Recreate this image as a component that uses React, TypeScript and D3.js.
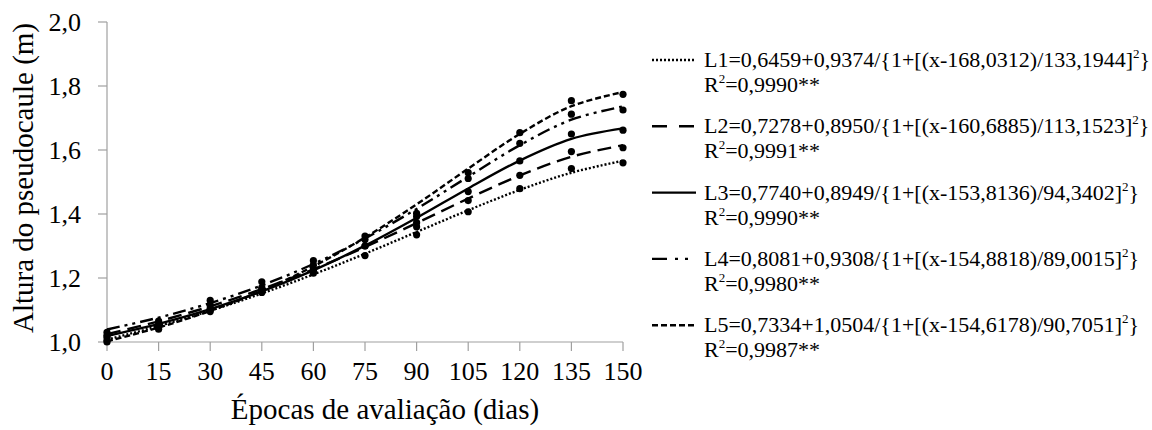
import * as d3 from "d3";

// days after planting
const epochs = [0, 15, 30, 45, 60, 75, 90, 105, 120, 135, 150];
const xTicks = epochs;
const yTicks = [1.0, 1.2, 1.4, 1.6, 1.8, 2.0];

const obsL1 = [1.005, 1.045, 1.095, 1.155, 1.215, 1.27, 1.335, 1.407, 1.479, 1.542, 1.56];
const obsL2 = [1.02, 1.06, 1.105, 1.165, 1.225, 1.3, 1.36, 1.442, 1.521, 1.595, 1.607];
const obsL3 = [1.015, 1.05, 1.1, 1.16, 1.225, 1.3, 1.373, 1.47, 1.566, 1.65, 1.662];
const obsL4 = [1.03, 1.065, 1.115, 1.17, 1.24, 1.32, 1.392, 1.511, 1.621, 1.712, 1.725];
const obsL5 = [1.0, 1.04, 1.13, 1.188, 1.254, 1.331, 1.402, 1.529, 1.654, 1.754, 1.774];

// fitted curve heights at each epoch
const fitL1 = [1.0076, 1.0499, 1.0979, 1.1517, 1.2113, 1.2759, 1.3438, 1.4118, 1.4754, 1.529, 1.5664];
const fitL2 = [1.0245, 1.0646, 1.1113, 1.1654, 1.2273, 1.2966, 1.3716, 1.4483, 1.5203, 1.5789, 1.6149];
const fitL3 = [1.0186, 1.0567, 1.1027, 1.158, 1.224, 1.3011, 1.388, 1.4799, 1.567, 1.6347, 1.6674];
const fitL4 = [1.0392, 1.0763, 1.1216, 1.1768, 1.2438, 1.3236, 1.4159, 1.5164, 1.615, 1.6947, 1.7361];
const fitL5 = [1.0023, 1.0452, 1.0972, 1.1603, 1.2364, 1.3267, 1.4302, 1.5419, 1.6503, 1.7369, 1.7811];

const equations = [
  "L1=0,6459+0,9374/{1+[(x-168,0312)/133,1944]",
  "L2=0,7278+0,8950/{1+[(x-160,6885)/113,1523]",
  "L3=0,7740+0,8949/{1+[(x-153,8136)/94,3402]",
  "L4=0,8081+0,9308/{1+[(x-154,8818)/89,0015]",
  "L5=0,7334+1,0504/{1+[(x-154,6178)/90,7051]",
];
const r2 = ["0,9990", "0,9991", "0,9990", "0,9980", "0,9987"];

const series = [
  { obs: obsL1, fit: fitL1, dash: "2,2", legendDash: "2,2" },
  { obs: obsL2, fit: fitL2, dash: "14,7", legendDash: "15,12" },
  { obs: obsL3, fit: fitL3, dash: null, legendDash: null },
  { obs: obsL4, fit: fitL4, dash: "13,5,3,5,3,5", legendDash: "15,8,3,7,3,20" },
  { obs: obsL5, fit: fitL5, dash: "6,3", legendDash: "6,3" },
];

const W = 1152;
const H = 430;
const font = '"Liberation Serif", "DejaVu Serif", serif';
const axisGrey = "#a0a0a0";

export default function App() {
  const x = d3.scaleLinear().domain([0, 150]).range([107, 623]);
  const y = d3.scaleLinear().domain([1, 2]).range([342, 22]);

  const line = d3
    .line<number>()
    .x((_, i) => x(epochs[i]))
    .y((d) => y(d))
    .curve(d3.curveCatmullRom.alpha(0.5));

  return (
    <svg
      width={W}
      height={H}
      style={{ position: "absolute", left: 0, top: 0, background: "#fff", fontFamily: font }}
    >
      {/* axes */}
      <line x1={x(0)} x2={x(0)} y1={y(2)} y2={y(1)} stroke={axisGrey} strokeWidth={1.2} />
      <line x1={x(0)} x2={x(150)} y1={y(1)} y2={y(1)} stroke={axisGrey} strokeWidth={1.2} />
      {yTicks.map((t) => (
        <g key={"y" + t}>
          <line x1={x(0) - 9} x2={x(0)} y1={y(t)} y2={y(t)} stroke={axisGrey} strokeWidth={1.2} />
          <text x={81} y={y(t) + 9} fontSize={26} textAnchor="end">
            {t.toFixed(1).replace(".", ",")}
          </text>
        </g>
      ))}
      {xTicks.map((t) => (
        <g key={"x" + t}>
          <line x1={x(t)} x2={x(t)} y1={y(1)} y2={y(1) + 9} stroke={axisGrey} strokeWidth={1.2} />
          <text x={x(t)} y={380} fontSize={26} textAnchor="middle">
            {t}
          </text>
        </g>
      ))}
      <text
        transform={`translate(33,178) rotate(-90)`}
        fontSize={29}
        textAnchor="middle"
      >
        Altura do pseudocaule (m)
      </text>
      <text x={385} y={419} fontSize={29} textAnchor="middle">
        Épocas de avaliação (dias)
      </text>

      {/* fitted curves */}
      {series.map((s, i) => (
        <path
          key={"c" + i}
          d={line(s.fit) || ""}
          fill="none"
          stroke="#000"
          strokeWidth={2.4}
          strokeDasharray={s.dash || undefined}
        />
      ))}
      {/* observed dots */}
      {series.map((s, i) =>
        s.obs.map((v, j) => (
          <circle key={`p${i}-${j}`} cx={x(epochs[j])} cy={y(v)} r={3.6} fill="#000" />
        ))
      )}

      {/* legend */}
      {series.map((s, i) => {
        const base = 67 + i * 66.3;
        return (
          <g key={"l" + i}>
            <line
              x1={652}
              x2={696}
              y1={base - 7}
              y2={base - 7}
              stroke="#000"
              strokeWidth={2.4}
              strokeDasharray={s.legendDash || undefined}
            />
            <text x={704} y={base} fontSize={22}>
              {equations[i]}
              <tspan fontSize={13} dy={-9}>2</tspan>
              <tspan dy={9}>{"}"}</tspan>
            </text>
            <text x={704} y={base + 25} fontSize={22}>
              R<tspan fontSize={13} dy={-9}>2</tspan>
              <tspan dy={9}>{"=" + r2[i] + "**"}</tspan>
            </text>
          </g>
        );
      })}
    </svg>
  );
}
